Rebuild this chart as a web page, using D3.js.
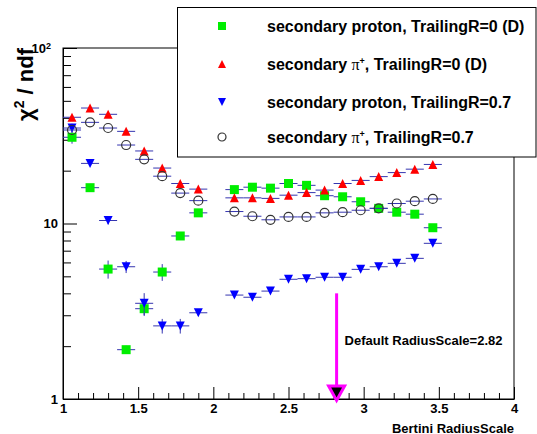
<!DOCTYPE html>
<html>
<head>
<meta charset="utf-8">
<script src="https://cdn.jsdelivr.net/npm/d3@7"></script>
<style>
body { margin: 0; background: #fff; }
svg { display: block; font-family: "Liberation Sans", Arial, Helvetica, sans-serif; font-weight: bold; }
</style>
</head>
<body>
<div id="chart"></div>
<script>
// Data
var xVals = [1.06, 1.18, 1.30, 1.42, 1.54, 1.66, 1.78, 1.90,
             2.14, 2.26, 2.38, 2.50, 2.62, 2.74, 2.86, 2.98, 3.10, 3.22, 3.34, 3.46];
var xHalfBin = 0.06;

// secondary proton, TrailingR=0 (D)
var protonTR0 = [31.0, 16.0, 5.5, 1.91, 3.27, 5.29, 8.49, 11.5,
                 15.6, 16.1, 15.9, 16.9, 16.5, 14.4, 14.2, 13.3, 12.2, 11.6, 11.3, 9.46];
var protonTR0Err = [2.5, 0.6, 0.65, 0.1, 0.3, 0.58, 0.3, 0.3,
                    0.3, 0.3, 0.3, 0.3, 0.3, 0.3, 0.3, 0.3, 0.3, 0.3, 0.3, 0.3];
// secondary pi+, TrailingR=0 (D)
var piTR0 = [40.3, 45.5, 41.9, 33.5, 25.9, 20.7, 16.9, 15.7,
             14.0, 14.0, 13.9, 14.5, 15.0, 15.5, 16.9, 17.6, 18.5, 19.5, 20.4, 21.7];
// secondary proton, TrailingR=0.7
var protonTR07 = [35.0, 22.0, 10.4, 5.67, 3.51, 2.61, 2.61, 3.10,
                  3.91, 3.80, 4.12, 4.81, 4.85, 4.94, 4.94, 5.48, 5.67, 5.93, 6.33, 7.71];
var protonTR07Err = [2.0, 0.8, 0.5, 0.45, 0.5, 0.25, 0.25, 0.12,
                     0.1, 0.1, 0.1, 0.1, 0.1, 0.1, 0.1, 0.1, 0.1, 0.1, 0.1, 0.15];
// secondary pi+, TrailingR=0.7
var piTR07 = [34.1, 37.7, 35.0, 28.0, 23.2, 18.6, 14.9, 13.5,
              11.7, 11.0, 10.5, 10.9, 10.9, 11.5, 11.6, 11.9, 12.2, 13.0, 13.4, 13.8];

var xTicks = [1, 1.5, 2, 2.5, 3, 3.5, 4];
var xTickLabels = ["1", "1.5", "2", "2.5", "3", "3.5", "4"];
var yTicks = [1, 10, 100];
var yMinor = [2, 3, 4, 5, 6, 7, 8, 9, 20, 30, 40, 50, 60, 70, 80, 90];

var defaultRadius = 2.82;
var arrowTopY = 4.0;

// Canvas
var width = 537, height = 434;
var plotL = 63, plotR = 514, plotT = 48, plotB = 399;

var svg = d3.select("#chart").append("svg")
  .attr("width", width)
  .attr("height", height);

svg.append("rect").attr("width", width).attr("height", height).attr("fill", "#fff");

var xScale = d3.scaleLinear().domain([1, 4]).range([plotL, plotR]);
var yScale = d3.scaleLog().domain([1, 100]).range([plotB, plotT]);

// frame
svg.append("rect")
  .attr("x", plotL).attr("y", plotT)
  .attr("width", plotR - plotL).attr("height", plotB - plotT)
  .attr("fill", "none").attr("stroke", "#000").attr("stroke-width", 1);

// x axis: majors + minors, ticks pointing inward
var xMinor = d3.range(11, 40).filter(function(i) { return i % 5 !== 0; })
  .map(function(i) { return i / 10; });

var xAxisG = svg.append("g")
  .attr("transform", "translate(0," + plotB + ")")
  .call(d3.axisBottom(xScale).tickValues(xTicks).tickSize(-12).tickSizeOuter(0)
    .tickPadding(5).tickFormat(function(d, i) { return xTickLabels[i]; }));
svg.append("g")
  .attr("transform", "translate(0," + plotB + ")")
  .call(d3.axisBottom(xScale).tickValues(xMinor).tickSize(-6).tickSizeOuter(0).tickFormat(""))
  .select(".domain").remove();

// y axis
var yAxisG = svg.append("g")
  .attr("transform", "translate(" + plotL + ",0)")
  .call(d3.axisLeft(yScale).tickValues(yTicks).tickSize(-14).tickSizeOuter(0)
    .tickPadding(5).tickFormat(function(d) { return d === 100 ? "10" : String(d); }));
svg.append("g")
  .attr("transform", "translate(" + plotL + ",0)")
  .call(d3.axisLeft(yScale).tickValues(yMinor).tickSize(-8).tickSizeOuter(0).tickFormat(""))
  .select(".domain").remove();

svg.selectAll(".tick line").attr("stroke", "#000");
svg.selectAll(".domain").attr("stroke", "#000");
[xAxisG, yAxisG].forEach(function(g) {
  g.attr("font-family", null).attr("font-size", 13);
  g.selectAll("text").attr("fill", "#000");
});
// 10^2 label
yAxisG.selectAll(".tick text").filter(function(d) { return d === 100; })
  .attr("dx", "-7")
  .append("tspan").attr("dy", "-0.45em").attr("font-size", 9).text("2");

// axis titles
svg.append("text")
  .attr("transform", "translate(33," + plotT + ") rotate(-90)")
  .attr("text-anchor", "end")
  .attr("font-size", 22)
  .html('χ<tspan font-size="14" dy="-9">2</tspan><tspan dy="9"> / ndf</tspan>');

svg.append("text")
  .attr("x", plotR).attr("y", 432.5)
  .attr("text-anchor", "end")
  .attr("font-size", 13)
  .text("Bertini RadiusScale");

// markers
var errColor = "#3535b0";
function markerPath(kind, s) {
  var h = s / 2;
  if (kind === "square") return "M" + (-h) + "," + (-h) + "h" + s + "v" + s + "h" + (-s) + "Z";
  if (kind === "up") return "M0," + (-h) + "L" + h + "," + h + "L" + (-h) + "," + h + "Z";
  if (kind === "down") return "M0," + h + "L" + h + "," + (-h) + "L" + (-h) + "," + (-h) + "Z";
  return "";
}

var series = [
  { name: "proton0", vals: protonTR0, errs: protonTR0Err, kind: "square", color: "#00ee00" },
  { name: "pi0", vals: piTR0, errs: null, kind: "up", color: "#ff0000" },
  { name: "proton07", vals: protonTR07, errs: protonTR07Err, kind: "down", color: "#0000ff" },
  { name: "pi07", vals: piTR07, errs: null, kind: "circle", color: "#333" }
];

series.forEach(function(s) {
  var pts = xVals.map(function(x, i) {
    return { x: x, y: s.vals[i], e: s.errs ? s.errs[i] : 0 };
  });
  var g = svg.append("g").attr("class", s.name);
  // horizontal error bars
  g.selectAll("line.h").data(pts).enter().append("line")
    .attr("x1", function(d) { return xScale(d.x - xHalfBin); })
    .attr("x2", function(d) { return xScale(d.x + xHalfBin); })
    .attr("y1", function(d) { return yScale(d.y); })
    .attr("y2", function(d) { return yScale(d.y); })
    .attr("stroke", errColor).attr("stroke-width", 1);
  // vertical error bars
  g.selectAll("line.v").data(pts.filter(function(d) { return d.e > 0; })).enter().append("line")
    .attr("x1", function(d) { return xScale(d.x); })
    .attr("x2", function(d) { return xScale(d.x); })
    .attr("y1", function(d) { return yScale(d.y - d.e); })
    .attr("y2", function(d) { return yScale(d.y + d.e); })
    .attr("stroke", errColor).attr("stroke-width", 1);
  if (s.kind === "circle") {
    g.selectAll("circle").data(pts).enter().append("circle")
      .attr("cx", function(d) { return xScale(d.x); })
      .attr("cy", function(d) { return yScale(d.y); })
      .attr("r", 4.5)
      .attr("fill", "none").attr("stroke", s.color).attr("stroke-width", 1.2);
  } else {
    g.selectAll("path").data(pts).enter().append("path")
      .attr("d", markerPath(s.kind, 9))
      .attr("transform", function(d) { return "translate(" + xScale(d.x) + "," + yScale(d.y) + ")"; })
      .attr("fill", s.color);
  }
});

// default radius arrow
var ax = xScale(defaultRadius);
svg.append("line")
  .attr("x1", ax).attr("x2", ax)
  .attr("y1", yScale(arrowTopY)).attr("y2", plotB - 12)
  .attr("stroke", "#ff00ff").attr("stroke-width", 3);
svg.append("path")
  .attr("d", "M" + (ax - 8) + "," + (plotB - 13) + "L" + (ax + 8) + "," + (plotB - 13) + "L" + ax + "," + (plotB + 1.5) + "Z")
  .attr("fill", "#000").attr("stroke", "#ff00ff").attr("stroke-width", 3);
svg.append("text")
  .attr("x", ax + 8).attr("y", 345)
  .attr("font-size", 13)
  .text("Default RadiusScale=2.82");

// legend
var legendEntries = [
  { kind: "square", color: "#00ee00", label: 'secondary proton, TrailingR=0 (D)' },
  { kind: "up", color: "#ff0000", label: 'secondary <tspan font-family="Liberation Serif" font-weight="normal">π</tspan><tspan font-size="9" dy="-6">+</tspan><tspan dy="6">, TrailingR=0 (D)</tspan>' },
  { kind: "down", color: "#0000ff", label: 'secondary proton, TrailingR=0.7' },
  { kind: "circle", color: "#333", label: 'secondary <tspan font-family="Liberation Serif" font-weight="normal">π</tspan><tspan font-size="9" dy="-6">+</tspan><tspan dy="6">, TrailingR=0.7</tspan>' }
];
var legendRows = [26, 64, 102, 137];

svg.append("rect")
  .attr("x", 177.5).attr("y", 7.5).attr("width", 358.5).attr("height", 149.5)
  .attr("fill", "#fff").attr("stroke", "#000").attr("stroke-width", 1);

var lg = svg.selectAll("g.legend").data(legendEntries).enter().append("g")
  .attr("class", "legend")
  .attr("transform", function(d, i) { return "translate(0," + legendRows[i] + ")"; });
lg.each(function(d) {
  var g = d3.select(this);
  if (d.kind === "circle") {
    g.append("circle").attr("cx", 222).attr("cy", 0).attr("r", 4)
      .attr("fill", "none").attr("stroke", d.color).attr("stroke-width", 1.2);
  } else {
    g.append("path").attr("d", markerPath(d.kind, 8))
      .attr("transform", "translate(222,0)").attr("fill", d.color);
  }
  g.append("text").attr("x", 267).attr("y", 5.5).attr("font-size", 16).html(d.label);
});
</script>
</body>
</html>
